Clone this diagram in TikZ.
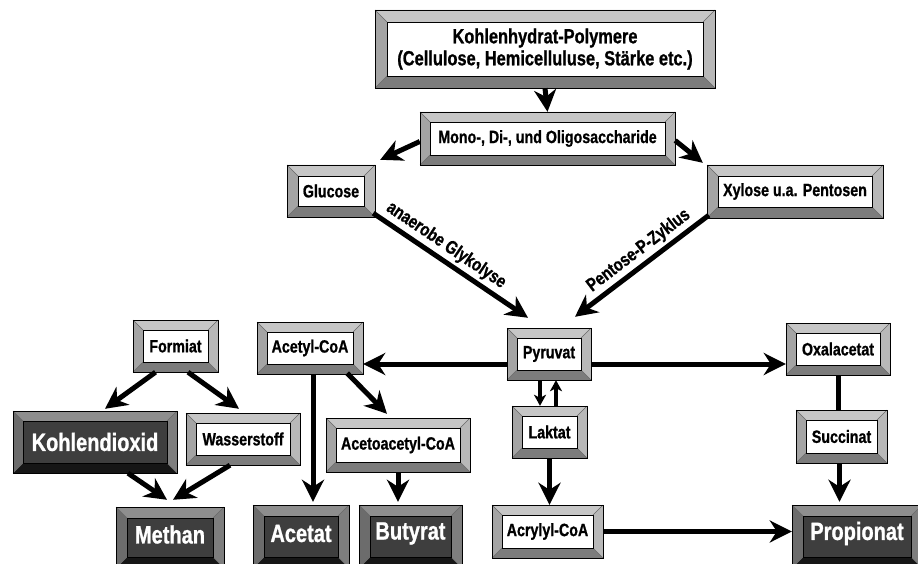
\documentclass[tikz,border=0pt]{standalone}
\usepackage{fontspec}
\setmainfont{Liberation Sans}[FakeStretch=0.8, FakeBold=0.9]
\usetikzlibrary{arrows.meta,calc}
\definecolor{Ltop}{HTML}{C6C6C6}
\definecolor{Lleft}{HTML}{A4A4A4}
\definecolor{Lright}{HTML}{B8B8B8}
\definecolor{Lbot}{HTML}{7C7C7C}
\definecolor{Linner}{HTML}{FFFFFF}
\definecolor{Dtop}{HTML}{8E8E8E}
\definecolor{Dleft}{HTML}{6C6C6C}
\definecolor{Dright}{HTML}{7E7E7E}
\definecolor{Dbot}{HTML}{161616}
\definecolor{Dinner}{HTML}{3E3E3E}
\tikzset{
  Ltxt/.style={font=\bfseries\fontsize{17.8}{20}\selectfont, text=black, align=center},
  Dtxt/.style={font=\bfseries\fontsize{25}{28}\selectfont, text=white, align=center},
  toptxt/.style={font=\bfseries\fontsize{20.5}{22}\selectfont},
  arr/.style={line width=5pt, -{Stealth[length=22pt,width=22pt,inset=7pt]}},
  sarr/.style={line width=3.5pt, -{Stealth[length=11pt,width=12pt,inset=3pt]}},
  plainline/.style={line width=5pt},
  slabel/.style={font=\bfseries\fontsize{18.5}{20}\selectfont, sloped, above=3pt, inner sep=0pt},
  edgeline/.style={line width=0.6pt, draw=black}
}
% #1 name #2 x1 #3 y1 #4 x2 #5 y2 #6 bevel #7 L/D #8 extra options #9 text
\newcommand{\bevbox}[9]{%
  \fill[#7top] (#2,#3) -- (#4,#3) -- ({#4-#6},{#3+#6}) -- ({#2+#6},{#3+#6}) -- cycle;
  \fill[#7bot] (#2,#5) -- (#4,#5) -- ({#4-#6},{#5-#6}) -- ({#2+#6},{#5-#6}) -- cycle;
  \fill[#7left] (#2,#3) -- ({#2+#6},{#3+#6}) -- ({#2+#6},{#5-#6}) -- (#2,#5) -- cycle;
  \fill[#7right] (#4,#3) -- ({#4-#6},{#3+#6}) -- ({#4-#6},{#5-#6}) -- (#4,#5) -- cycle;
  \draw[line width=0.4pt, draw=black!60] (#2,#3) -- ({#2+#6},{#3+#6}) (#4,#3) -- ({#4-#6},{#3+#6})
     (#2,#5) -- ({#2+#6},{#5-#6}) (#4,#5) -- ({#4-#6},{#5-#6});
  \draw[edgeline, fill=#7inner] ({#2+#6},{#3+#6}) rectangle ({#4-#6},{#5-#6});
  \draw[edgeline] (#2,#3) rectangle (#4,#5);
  \node[#7txt, inner sep=0pt, minimum width={#4-#2}, minimum height={#5-#3}, #8]
     (#1) at ({(#2+#4)/2},{(#3+#5)/2}) {#9};
}
\begin{document}
\begin{tikzpicture}[x=1pt, y=-1pt]
\useasboundingbox (0,0) rectangle (918,564);
\clip (0,0) rectangle (918,564);
\fill[white] (0,0) rectangle (918,564);

% boxes
\bevbox{top}{375}{10}{715}{88}{12}{L}{toptxt}{Kohlenhydrat-Polymere\\(Cellulose, Hemicelluluse, Stärke etc.)}
\bevbox{mono}{420}{112}{675}{165}{10}{L}{}{Mono-, Di-, und Oligosaccharide}
\bevbox{gluc}{287}{165}{375}{217}{11}{L}{}{Glucose}
\bevbox{xyl}{707}{165}{883}{218}{11}{L}{}{Xylose u.a. Pentosen}
\bevbox{pyr}{507}{328}{591}{380}{10}{L}{}{Pyruvat}
\bevbox{lak}{512}{406}{587}{458}{10}{L}{}{Laktat}
\bevbox{acr}{492}{505}{603}{558}{10}{L}{}{Acrylyl-CoA}
\bevbox{oxa}{786}{323}{890}{375}{10}{L}{}{Oxalacetat}
\bevbox{succ}{796}{410}{887}{463}{10}{L}{}{Succinat}
\bevbox{form}{133}{320}{218}{372}{10}{L}{}{Formiat}
\bevbox{h2}{186}{413}{300}{465}{10}{L}{}{Wasserstoff}
\bevbox{acoa}{257}{322}{363}{374}{10}{L}{}{Acetyl-CoA}
\bevbox{aacoa}{326}{418}{470}{472}{10}{L}{}{Acetoacetyl-CoA}
\bevbox{co2}{13}{411}{177}{473}{10}{D}{}{Kohlendioxid}
\bevbox{meth}{116}{507}{224}{568}{11}{D}{yshift=3pt}{Methan}
\bevbox{acet}{253}{505}{349}{568}{11}{D}{yshift=3pt}{Acetat}
\bevbox{but}{359}{505}{462}{568}{11}{D}{yshift=3pt}{Butyrat}
\bevbox{prop}{792}{505}{922}{568}{11}{D}{yshift=3pt}{Propionat}

% connectors
\draw[arr] (top.south) -- (mono.north);
\draw[arr] ($(mono.west)+(0,3)$) -- ($(gluc.north east)+(5,-5)$);
\draw[arr] ($(mono.east)+(0,2)$) -- ($(xyl.north west)+(-4,-2)$);
\draw[arr] ($(gluc.south east)+(-2,-4)$) -- node[slabel, pos=0.42] {anaerobe Glykolyse} ($(pyr.north)+(-21,-10)$);
\draw[arr] ($(xyl.south west)+(2,-3)$) -- node[slabel, pos=0.46] {Pentose-P-Zyklus} ($(pyr.north)+(26,-11)$);
\draw[arr] ($(pyr.west)+(0,10)$) coordinate (p1) -- (p1 -| acoa.east);
\draw[arr] ($(pyr.east)+(0,10)$) coordinate (p2) -- (p2 -| oxa.west);
\draw[sarr] ($(pyr.south)+(-9,0)$) coordinate (q1) -- (q1 |- lak.north);
\draw[sarr] ($(lak.north)+(6.5,0)$) coordinate (q2) -- (q2 |- pyr.south);
\draw[arr] (lak.south) -- (lak.south |- acr.north);
\draw[arr] (acr.east) -- (acr.east -| prop.west);
\draw[plainline] (oxa.south) -- (oxa.south |- succ.north);
\draw[arr] ($(succ.south)+(-2,0)$) coordinate (q3) -- (q3 |- prop.north);
\draw[arr] ($(acoa.south)+(3,0)$) coordinate (q4) -- (q4 |- acet.north);
\draw[arr] ($(acoa.south east)+(-16,-1)$) -- ($(aacoa.north)+(-11,-4)$);
\draw[arr] (aacoa.south) -- (aacoa.south |- but.north);
\draw[arr] ($(form.south)+(-20,0)$) -- ($(co2.north)+(10,-2)$);
\draw[arr] ($(form.south)+(12.5,0)$) -- ($(h2.north)+(-4,-4)$);
\draw[arr] ($(co2.south)+(33,0)$) -- ($(meth.north)+(-3,-4)$);
\draw[arr] ($(h2.south)+(-13,0)$) -- ($(meth.north)+(3,-4)$);
\end{tikzpicture}
\end{document}
